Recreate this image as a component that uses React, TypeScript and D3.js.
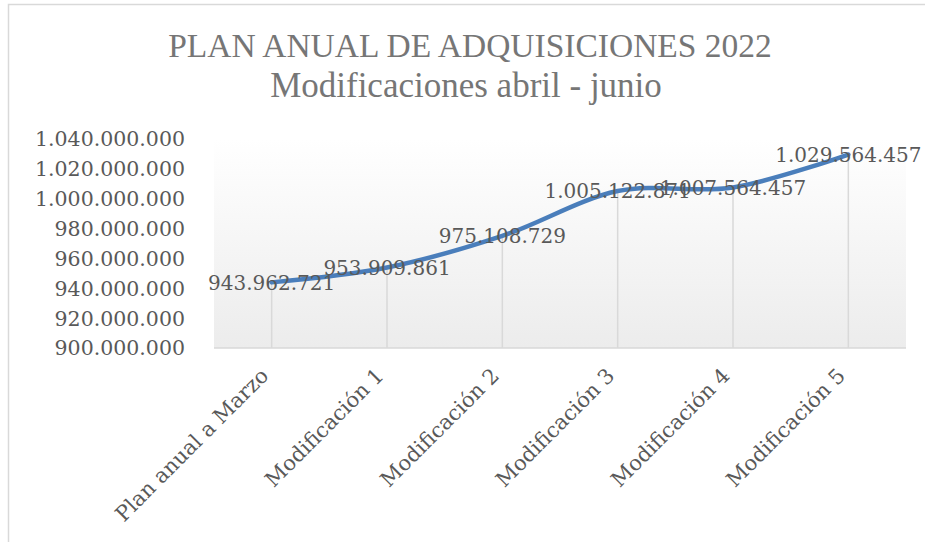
import React from "react"
import * as d3 from "d3"

const categories = ["Plan anual a Marzo", "Modificación 1", "Modificación 2", "Modificación 3", "Modificación 4", "Modificación 5"]
const values = [943962721, 953909861, 975108729, 1005122871, 1007564457, 1029564457]
const yTicks = [900000000, 920000000, 940000000, 960000000, 980000000, 1000000000, 1020000000, 1040000000]
const titleLines = ["PLAN ANUAL DE ADQUISICIONES 2022", "Modificaciones abril - junio"]

const W = 925
const H = 542
const plot = { left: 214, right: 906, top: 139, bottom: 348 }

const locale = d3.formatLocale({ decimal: ",", thousands: ".", grouping: [3], currency: ["$", ""] })
const fmt = locale.format(",d")

const numFont = "'DejaVu Serif', serif"
const textGray = "#595959"

export default function App() {
    const x = d3.scaleBand<string>()
        .domain(categories)
        .range([plot.left, plot.right])
    const y = d3.scaleLinear()
        .domain([900000000, 1040000000])
        .range([plot.bottom, plot.top])

    const cx = (c: string) => (x(c) as number) + x.bandwidth() / 2

    const line = d3.line<number>()
        .x((d, i) => cx(categories[i]))
        .y(d => y(d))
        .curve(d3.curveCatmullRom.alpha(0))

    return (
        <svg width={W} height={H} style={{ position: "absolute", left: 0, top: 0, background: "#fff" }}>
            <defs>
                <linearGradient id="plotFill" x1="0" y1="0" x2="0" y2="1">
                    <stop offset="0" stopColor="#ffffff" />
                    <stop offset="1" stopColor="#ececec" />
                </linearGradient>
            </defs>
            {/* chart border, runs past the picture on the right and bottom */}
            <rect x={8.5} y={4.5} width={W} height={H} fill="#fff" stroke="#d9d9d9" strokeWidth={1.5} />

            <g fontFamily="'Liberation Serif', serif" fill="#767676" fontSize={34} textAnchor="middle">
                <text x={470} y={57} fontSize={33.5}>{titleLines[0]}</text>
                <text x={466} y={97} fontSize={35}>{titleLines[1]}</text>
            </g>

            <rect x={plot.left} y={plot.top} width={plot.right - plot.left} height={plot.bottom - plot.top} fill="url(#plotFill)" />

            {/* drop lines */}
            <g stroke="#d9d9d9" strokeWidth={1.5}>
                {values.map((v, i) => (
                    <line key={i} x1={cx(categories[i])} x2={cx(categories[i])} y1={y(v)} y2={plot.bottom} />
                ))}
            </g>
            <line x1={plot.left} x2={plot.right} y1={plot.bottom} y2={plot.bottom} stroke="#d9d9d9" strokeWidth={1.5} />

            <g fontFamily={numFont} fontSize={20.5} fill={textGray} textAnchor="end">
                {yTicks.map(t => (
                    <text key={t} x={185} y={y(t)} dy="0.36em">{fmt(t)}</text>
                ))}
            </g>

            <g fontFamily={numFont} fontSize={21} fill={textGray} textAnchor="end">
                {categories.map(c => (
                    <text key={c} transform={`translate(${cx(c) - 2},${377}) rotate(-45)`}>{c}</text>
                ))}
            </g>

            <path d={line(values) as string} fill="none" stroke="#4a7ebb" strokeWidth={4.5} strokeLinecap="round" />

            <g fontFamily={numFont} fontSize={20} fill={textGray} textAnchor="middle">
                {values.map((v, i) => (
                    <text key={i} x={cx(categories[i])} y={y(v)} dy="0.36em">{fmt(v)}</text>
                ))}
            </g>
        </svg>
    )
}
